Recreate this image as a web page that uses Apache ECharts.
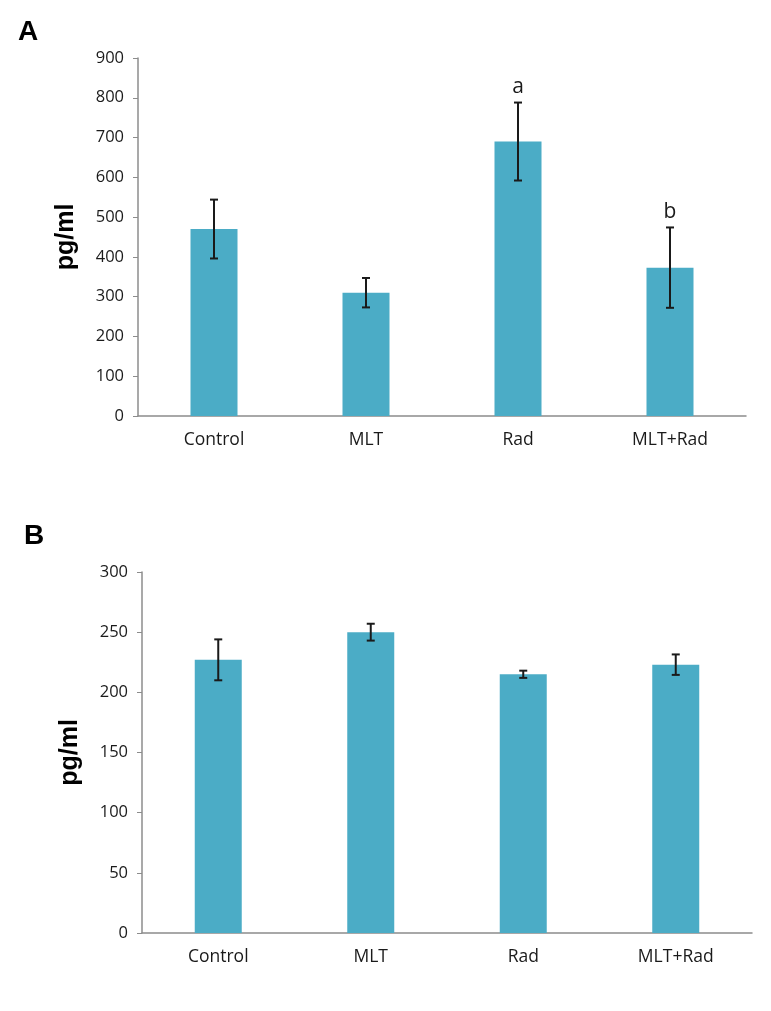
<!DOCTYPE html>
<html><head><meta charset="utf-8">
<script src="https://cdn.jsdelivr.net/npm/echarts@6/dist/echarts.min.js"></script>
<style>html,body{margin:0;padding:0;background:#fff}#c{width:771px;height:1011px}</style>
</head><body><div id="c"></div>
<script>
const categories = ['Control', 'MLT', 'Rad', 'MLT+Rad'];
const meansA = [470, 310, 690, 373];
const errA = [74, 37, 98, 101];
const sigA = ['', '', 'a', 'b'];
const ticksA = {min: 0, max: 900, interval: 100};
const meansB = [227, 250, 215, 223];
const errB = [17, 7, 3, 8.5];
const sigB = ['', '', '', ''];
const ticksB = {min: 0, max: 300, interval: 50};

const font = '"Open Sans", "Liberation Sans", sans-serif';
const barColor = '#4bacc6';

function errSeries(idx, means, errs, sigs) {
  return {
    type: 'custom', xAxisIndex: idx, yAxisIndex: idx, z: 5,
    data: means.map((m, i) => [i, m - errs[i], m + errs[i], sigs[i]]),
    renderItem: function (params, api) {
      const lo = api.coord([api.value(0), api.value(1)]);
      const hi = api.coord([api.value(0), api.value(2)]);
      const cap = 4;
      const st = {stroke: '#1a1a1a', lineWidth: 2};
      const children = [
        {type: 'line', shape: {x1: hi[0], y1: hi[1], x2: lo[0], y2: lo[1]}, style: st},
        {type: 'line', shape: {x1: hi[0] - cap, y1: hi[1], x2: hi[0] + cap, y2: hi[1]}, style: st},
        {type: 'line', shape: {x1: lo[0] - cap, y1: lo[1], x2: lo[0] + cap, y2: lo[1]}, style: st}
      ];
      const s = sigs[params.dataIndex];
      if (s) children.push({type: 'text', style: {text: s, x: hi[0], y: hi[1] - 5, align: 'center', verticalAlign: 'bottom', fontSize: 21, fontFamily: font, fill: '#1a1a1a'}});
      return {type: 'group', children: children};
    }
  };
}

function xAx(idx) {
  return {type: 'category', gridIndex: idx, data: categories,
    axisLine: {lineStyle: {color: '#8c8c8c', width: 1.5}}, axisTick: {show: false},
    axisLabel: {color: '#1a1a1a', fontSize: 17.5, fontFamily: font, margin: 15}};
}
function yAx(idx, t) {
  return {type: 'value', gridIndex: idx, min: t.min, max: t.max, interval: t.interval,
    name: 'pg/ml', nameLocation: 'middle', nameGap: 59,
    nameTextStyle: {fontSize: 25, fontWeight: 'bold', fontFamily: '"Liberation Sans", Arial, sans-serif', color: '#000'},
    axisLine: {show: true, lineStyle: {color: '#8c8c8c', width: 1.5}},
    axisTick: {show: true, inside: false, length: 5, lineStyle: {color: '#8c8c8c'}},
    splitLine: {show: false},
    axisLabel: {color: '#1a1a1a', fontSize: 16.5, fontFamily: font, margin: 14}};
}

const chart = echarts.init(document.getElementById('c'), null, {renderer: 'canvas'});
chart.setOption({
  animation: false,
  graphic: [
    {type: 'text', left: 18, top: 18, style: {text: 'A', fontSize: 28, fontWeight: 'bold', fontFamily: '"Liberation Sans", Arial', fill: '#000'}},
    {type: 'text', left: 24, top: 522, style: {text: 'B', fontSize: 28, fontWeight: 'bold', fontFamily: '"Liberation Sans", Arial', fill: '#000'}}
  ],
  grid: [
    {left: 138, right: 25, top: 58, height: 358},
    {left: 142, right: 19, top: 572, height: 361}
  ],
  xAxis: [xAx(0), xAx(1)],
  yAxis: [yAx(0, ticksA), yAx(1, ticksB)],
  series: [
    {type: 'bar', xAxisIndex: 0, yAxisIndex: 0, data: meansA, barWidth: 47, itemStyle: {color: barColor}},
    errSeries(0, meansA, errA, sigA),
    {type: 'bar', xAxisIndex: 1, yAxisIndex: 1, data: meansB, barWidth: 47, itemStyle: {color: barColor}},
    errSeries(1, meansB, errB, sigB)
  ]
});
</script></body></html>
